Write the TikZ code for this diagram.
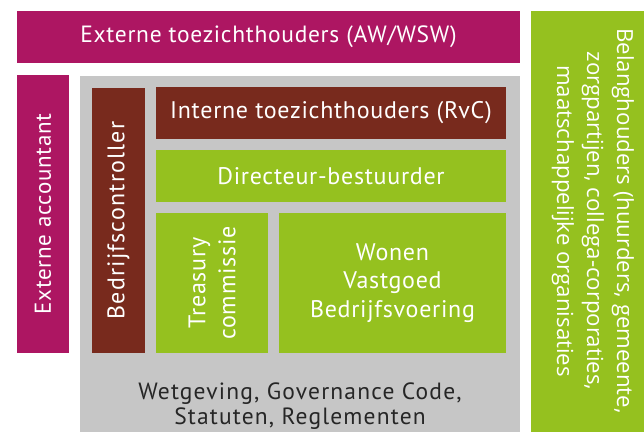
\documentclass[tikz,border=0pt]{standalone}
\usepackage{fontspec}
\setmainfont[LetterSpace=3]{PT Sans}
\newfontfamily\belangfont{Open Sans}
\usetikzlibrary{positioning}

\definecolor{magenta}{RGB}{173,22,98}
\definecolor{loofgroen}{RGB}{149,193,31}
\definecolor{bruin}{RGB}{120,42,29}
\definecolor{grijs}{RGB}{198,198,198}

\begin{document}
\begin{tikzpicture}[x=1pt,y=-1pt]
  \tikzset{BoxStyle/.style = {shape        = rectangle,
                              text         = white,
                              inner sep    = 0pt,
                              outer sep    = 0pt,
                              align        = center,
                              font         = \fontsize{24}{29}\selectfont},
           MagentaBox/.style = {BoxStyle, fill = magenta},
           GroenBox/.style   = {BoxStyle, fill = loofgroen},
           BruinBox/.style   = {BoxStyle, fill = bruin}}
  \useasboundingbox (0,0) rectangle (644,432);
  %%% BUITENKANT %%%
  \node[MagentaBox, minimum width=503, minimum height=52,
        font=\fontsize{23.5}{28}\selectfont] (extern) at (268.5,37)
        {Externe toezichthouders (AW/WSW)};
  \node[GroenBox, minimum width=113, minimum height=421] (belang) at (587.5,221.5) {};
  \node[BoxStyle, rotate=-90, font=\belangfont\fontsize{22.2}{30}\selectfont] (belangtekst)
        at ([xshift=5.5pt,yshift=0.5pt]belang.center)
        {Belanghouders (huurders, gemeente,\\zorgpartijen, collega-corporaties,\\maatschappelijke organisaties};
  \node[MagentaBox, rotate=90, minimum width=278, minimum height=52,
        font=\fontsize{23}{28}\selectfont] (accountant) at (43,214)
        {Externe accountant};
  %%% CORPORATIE %%%
  \node[fill=grijs, inner sep=0pt, minimum width=440, minimum height=356] (kader) at (300,254) {};
  \node[BruinBox, rotate=90, minimum width=265, minimum height=53,
        font=\fontsize{24}{29}\selectfont\addfontfeatures{LetterSpace=5}] (controller) at (118.5,220.5)
        {Bedrijfscontroller};
  \node[BruinBox, minimum width=350, minimum height=52] (rvc) at (331,113)
        {Interne toezichthouders (RvC)};
  \node[GroenBox, minimum width=350, minimum height=52] (directeur) at (331,176)
        {Directeur-bestuurder};
  \node[GroenBox, rotate=90, minimum width=140, minimum height=112,
        font=\fontsize{24}{30}\selectfont] (treasury) at (212,283)
        {Treasury\\commissie};
  \node[GroenBox, minimum width=227, minimum height=140,
        font=\fontsize{24}{28.5}\selectfont] (wonen) at (392.5,283)
        {Wonen\\Vastgoed\\Bedrijfsvoering};
  \node[align=center, text=black!85,
        font=\fontsize{23.5}{25}\selectfont\addfontfeatures{LetterSpace=5}] (wetgeving) at (300,406)
        {Wetgeving, Governance Code,\\Statuten, Reglementen};
\end{tikzpicture}
\end{document}
